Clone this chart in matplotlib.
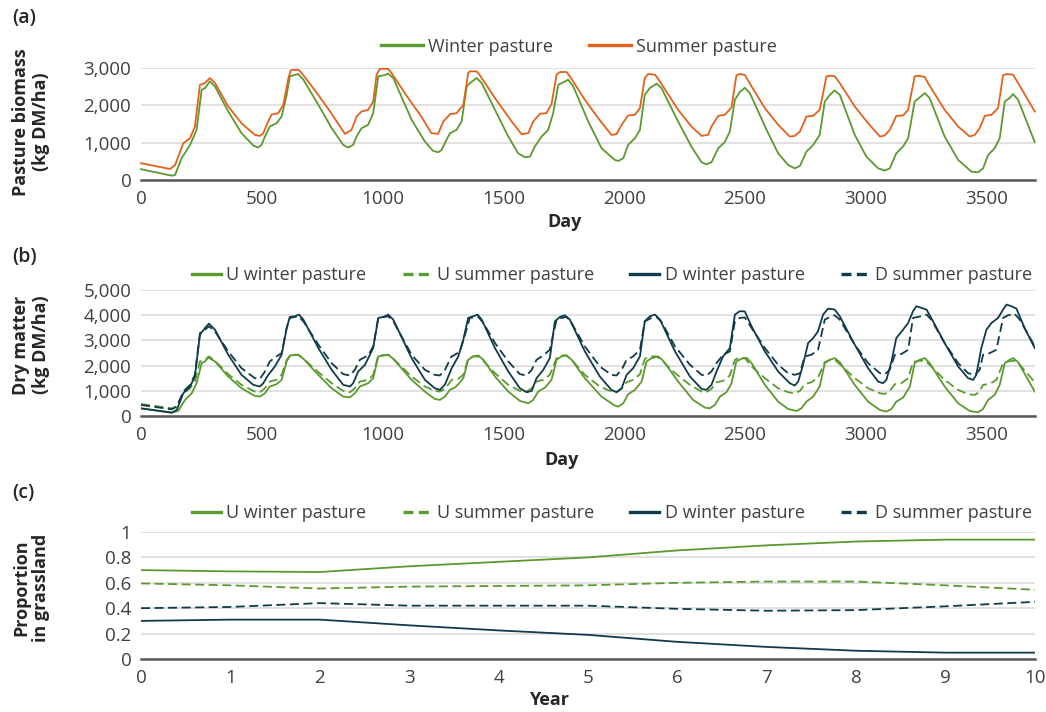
import numpy as np
import matplotlib
matplotlib.use("Agg")
import matplotlib.pyplot as plt
from matplotlib.ticker import FuncFormatter

plt.rcParams['font.family'] = ['Open Sans', 'DejaVu Sans']

GREEN = '#5b9a2f'
ORANGE = '#e2621b'
DARK = '#0f3b4c'
TXT = '#404040'
GRID = '#d9d9d9'

# (a) pasture biomass, [day, kg DM/ha]
a_summer = [
    [0, 450], [120, 295], [141, 400], [175, 985], [203, 1120], [223, 1430], [244, 2550], [265, 2600],
    [285, 2730], [306, 2600], [361, 1970], [416, 1520], [471, 1210], [492, 1180], [506, 1250], [520, 1480],
    [540, 1750], [568, 1790], [589, 2015], [610, 2730], [620, 2940], [651, 2955], [665, 2865], [720, 2400],
    [780, 1860], [844, 1236], [871, 1340], [892, 1700], [913, 1835], [940, 1880], [961, 2100], [975, 2820],
    [989, 2980], [1023, 2975], [1037, 2865], [1100, 2250], [1160, 1700], [1202, 1254], [1230, 1236],
    [1251, 1567], [1279, 1764], [1306, 1790], [1334, 2015], [1354, 2865], [1361, 2910], [1389, 2910],
    [1403, 2800], [1465, 2194], [1534, 1567], [1575, 1227], [1603, 1254], [1623, 1567], [1651, 1773],
    [1678, 1790], [1699, 2033], [1720, 2820], [1734, 2892], [1761, 2892], [1775, 2776], [1837, 2149],
    [1892, 1657], [1947, 1209], [1968, 1227], [1989, 1478], [2016, 1728], [2044, 1746], [2065, 1925],
    [2085, 2731], [2099, 2839], [2127, 2821], [2140, 2713], [2223, 1880], [2278, 1433], [2320, 1182],
    [2347, 1209], [2361, 1433], [2389, 1719], [2416, 1746], [2444, 1943], [2464, 2803], [2478, 2839],
    [2499, 2815], [2527, 2507], [2582, 1925], [2637, 1478], [2685, 1164], [2706, 1182], [2727, 1298],
    [2754, 1701], [2782, 1719], [2809, 1880], [2837, 2776], [2851, 2794], [2871, 2776], [2892, 2597],
    [2954, 1970], [3009, 1522], [3058, 1164], [3078, 1191], [3099, 1343], [3126, 1719], [3154, 1728],
    [3175, 1880], [3202, 2776], [3216, 2794], [3244, 2758], [3257, 2597], [3326, 1880], [3382, 1433],
    [3430, 1164], [3451, 1209], [3471, 1388], [3492, 1719], [3520, 1746], [3547, 1925], [3568, 2803],
    [3582, 2839], [3609, 2821], [3630, 2597], [3699, 1836]]

a_winter = [
    [0, 290], [127, 116], [141, 134], [168, 582], [203, 940], [230, 1343], [251, 2418], [265, 2463],
    [285, 2642], [306, 2507], [361, 1836], [416, 1254], [465, 922], [485, 869], [499, 940], [513, 1164],
    [533, 1433], [561, 1522], [582, 1701], [603, 2284], [616, 2776], [630, 2803], [651, 2839], [672, 2687],
    [734, 2015], [789, 1388], [837, 940], [858, 869], [878, 940], [892, 1164], [913, 1388], [940, 1478],
    [961, 1791], [982, 2776], [1003, 2803], [1023, 2848], [1044, 2731], [1120, 1612], [1175, 1030],
    [1209, 779], [1230, 743], [1244, 806], [1264, 1075], [1279, 1254], [1306, 1343], [1327, 1567],
    [1348, 2507], [1361, 2597], [1375, 2660], [1389, 2731], [1410, 2597], [1465, 1880], [1520, 1164],
    [1561, 716], [1589, 609], [1610, 627], [1630, 896], [1658, 1164], [1685, 1343], [1706, 1791],
    [1727, 2552], [1747, 2615], [1768, 2687], [1789, 2507], [1851, 1567], [1906, 851], [1961, 537],
    [1975, 510], [1996, 582], [2016, 940], [2044, 1119], [2065, 1343], [2085, 2284], [2106, 2463],
    [2134, 2579], [2154, 2463], [2223, 1567], [2278, 896], [2320, 475], [2340, 421], [2361, 475],
    [2389, 851], [2416, 1012], [2437, 1298], [2458, 2149], [2478, 2355], [2499, 2470], [2520, 2328],
    [2589, 1343], [2637, 716], [2678, 403], [2706, 313], [2727, 376], [2754, 761], [2782, 940],
    [2809, 1209], [2830, 2104], [2851, 2284], [2871, 2400], [2892, 2284], [2954, 1209], [3002, 627],
    [3051, 313], [3078, 251], [3099, 313], [3126, 716], [3154, 896], [3175, 1119], [3202, 2104],
    [3223, 2212], [3244, 2328], [3264, 2194], [3326, 1164], [3382, 537], [3437, 224], [3464, 206],
    [3485, 313], [3506, 672], [3533, 851], [3554, 1119], [3575, 2104], [3595, 2194], [3609, 2302],
    [3630, 2149], [3699, 1012]]

# (b) dry matter, [day, kg DM/ha]
b_u_winter = [
    [0, 300], [127, 133], [154, 199], [182, 637], [210, 903], [230, 1301], [251, 2098], [265, 2165],
    [278, 2324], [306, 2165], [361, 1567], [416, 1102], [471, 797], [492, 770], [513, 903], [533, 1169],
    [561, 1262], [582, 1434], [603, 2165], [616, 2404], [651, 2430], [672, 2271], [734, 1633], [789, 1102],
    [837, 770], [865, 744], [885, 903], [906, 1169], [940, 1301], [961, 1501], [982, 2364], [1023, 2430],
    [1044, 2271], [1120, 1434], [1175, 969], [1216, 677], [1237, 637], [1258, 770], [1278, 1036],
    [1299, 1129], [1313, 1262], [1334, 1501], [1354, 2231], [1375, 2364], [1396, 2404], [1417, 2231],
    [1465, 1567], [1520, 969], [1568, 598], [1603, 505], [1623, 637], [1644, 969], [1672, 1129],
    [1699, 1434], [1720, 2231], [1740, 2364], [1761, 2404], [1782, 2231], [1837, 1501], [1906, 770],
    [1961, 412], [1975, 372], [1996, 505], [2016, 863], [2044, 1036], [2072, 1368], [2092, 2165],
    [2113, 2297], [2141, 2364], [2161, 2191], [2223, 1368], [2285, 637], [2334, 332], [2354, 305],
    [2375, 438], [2396, 770], [2423, 943], [2444, 1301], [2464, 2165], [2485, 2271], [2506, 2310],
    [2527, 2100], [2582, 1235], [2637, 571], [2678, 279], [2713, 199], [2733, 305], [2754, 571],
    [2782, 770], [2809, 1169], [2830, 2098], [2851, 2231], [2871, 2297], [2892, 2138], [2954, 1235],
    [3009, 571], [3058, 239], [3085, 173], [3106, 279], [3126, 571], [3154, 730], [3182, 1169],
    [3202, 2098], [3223, 2231], [3244, 2297], [3264, 2098], [3326, 1169], [3382, 505], [3430, 199],
    [3464, 146], [3485, 279], [3506, 637], [3533, 837], [3554, 1235], [3575, 2098], [3595, 2231],
    [3609, 2297], [3630, 2138], [3699, 969]]

b_u_summer = [
    [0, 478], [127, 305], [148, 372], [175, 903], [203, 1102], [223, 1368], [244, 2165], [265, 2231],
    [281, 2364], [306, 2191], [361, 1660], [416, 1235], [471, 969], [492, 943], [513, 1102], [533, 1368],
    [561, 1434], [582, 1633], [603, 2231], [623, 2430], [651, 2430], [672, 2271], [734, 1740], [789, 1301],
    [837, 996], [865, 943], [885, 1102], [906, 1368], [940, 1434], [961, 1633], [982, 2404], [1023, 2430],
    [1044, 2271], [1120, 1567], [1175, 1169], [1216, 996], [1237, 969], [1258, 1076], [1286, 1434],
    [1313, 1474], [1334, 1633], [1354, 2271], [1375, 2364], [1396, 2364], [1417, 2191], [1465, 1700],
    [1520, 1235], [1568, 996], [1596, 969], [1617, 1102], [1637, 1368], [1665, 1434], [1692, 1633],
    [1720, 2297], [1740, 2404], [1761, 2404], [1782, 2231], [1837, 1633], [1899, 1169], [1947, 969],
    [1968, 943], [1989, 1076], [2010, 1341], [2037, 1434], [2065, 1660], [2085, 2271], [2113, 2364],
    [2134, 2364], [2154, 2231], [2210, 1700], [2272, 1235], [2320, 969], [2340, 943], [2361, 1076],
    [2382, 1341], [2409, 1394], [2437, 1607], [2458, 2231], [2478, 2324], [2499, 2300], [2527, 1965],
    [2582, 1501], [2637, 1102], [2678, 943], [2706, 903], [2727, 996], [2747, 1262], [2775, 1341],
    [2802, 1527], [2830, 2138], [2851, 2231], [2871, 2231], [2892, 2058], [2954, 1501], [3009, 1102],
    [3058, 903], [3078, 876], [3099, 996], [3120, 1262], [3147, 1301], [3175, 1501], [3195, 2138],
    [3216, 2191], [3244, 2191], [3264, 2032], [3326, 1434], [3382, 1036], [3423, 863], [3451, 837],
    [3471, 969], [3485, 1235], [3513, 1275], [3540, 1434], [3568, 2098], [3588, 2165], [3616, 2191],
    [3637, 2032], [3699, 1341]]

b_d_winter = [
    [0, 305], [127, 133], [148, 239], [175, 903], [203, 1169], [223, 1567], [244, 3227], [265, 3493],
    [281, 3665], [306, 3426], [361, 2430], [416, 1633], [465, 1235], [492, 1169], [506, 1301], [527, 1633],
    [554, 1965], [582, 2430], [603, 3493], [616, 3931], [637, 3957], [654, 4024], [672, 3824], [734, 2696],
    [789, 1833], [837, 1235], [865, 1169], [878, 1301], [899, 1766], [927, 2032], [961, 2696], [982, 3891],
    [1003, 3931], [1023, 4024], [1044, 3824], [1120, 2297], [1175, 1434], [1216, 1102], [1237, 1036],
    [1258, 1250], [1286, 1900], [1313, 2364], [1334, 3028], [1354, 3891], [1375, 3957], [1393, 4024],
    [1410, 3824], [1465, 2696], [1520, 1766], [1568, 1102], [1596, 943], [1617, 996], [1637, 1501],
    [1665, 1833], [1692, 2297], [1713, 3758], [1734, 3931], [1754, 3997], [1775, 3824], [1837, 2563],
    [1899, 1567], [1947, 1036], [1968, 943], [1989, 1102], [2010, 1633], [2037, 1899], [2065, 2364],
    [2085, 3758], [2106, 3957], [2127, 4024], [2148, 3824], [2210, 2563], [2272, 1567], [2320, 1076],
    [2340, 1036], [2361, 1235], [2382, 1766], [2409, 2364], [2437, 2696], [2458, 4024], [2478, 4157],
    [2499, 4150], [2527, 3559], [2582, 2563], [2637, 1766], [2685, 1301], [2706, 1208], [2720, 1368],
    [2740, 2032], [2761, 2895], [2782, 3094], [2802, 3360], [2823, 4024], [2844, 4263], [2871, 4223],
    [2892, 3957], [2954, 2829], [3009, 1899], [3051, 1368], [3071, 1301], [3085, 1434], [3106, 2165],
    [3126, 3094], [3154, 3426], [3175, 3692], [3195, 4157], [3209, 4356], [3230, 4290], [3251, 4223],
    [3278, 3758], [3326, 2895], [3382, 1965], [3423, 1501], [3444, 1434], [3457, 1633], [3478, 2696],
    [3499, 3426], [3520, 3692], [3547, 3891], [3568, 4223], [3582, 4422], [3602, 4356], [3623, 4263],
    [3657, 3493], [3699, 2696]]

b_d_summer = [
    [0, 438], [127, 266], [148, 372], [175, 969], [203, 1235], [223, 1633], [244, 3293], [265, 3426],
    [281, 3559], [306, 3360], [361, 2563], [416, 1899], [471, 1501], [492, 1474], [513, 1766], [533, 2165],
    [561, 2364], [582, 2497], [603, 3493], [616, 3891], [651, 3957], [672, 3758], [734, 2829], [789, 2098],
    [837, 1660], [865, 1607], [885, 1833], [906, 2231], [940, 2404], [961, 2762], [982, 3891], [1023, 3957],
    [1044, 3758], [1120, 2430], [1175, 1833], [1216, 1633], [1237, 1607], [1258, 1833], [1285, 2364],
    [1299, 2430], [1320, 2563], [1341, 3227], [1361, 3891], [1396, 3931], [1417, 3692], [1465, 2895],
    [1520, 2165], [1568, 1660], [1596, 1607], [1617, 1833], [1637, 2231], [1665, 2404], [1692, 2629],
    [1720, 3824], [1740, 3891], [1761, 3931], [1782, 3692], [1837, 2762], [1899, 1965], [1947, 1633],
    [1968, 1607], [1989, 1833], [2010, 2231], [2037, 2364], [2065, 2629], [2085, 3758], [2113, 3891],
    [2134, 3931], [2154, 3732], [2210, 2762], [2272, 2032], [2320, 1633], [2340, 1607], [2361, 1766],
    [2382, 2098], [2409, 2430], [2437, 2563], [2458, 3758], [2478, 3891], [2499, 3910], [2527, 3493],
    [2582, 2696], [2637, 2032], [2678, 1700], [2706, 1633], [2727, 1700], [2747, 2364], [2775, 2430],
    [2802, 2629], [2830, 3824], [2851, 3931], [2871, 3997], [2892, 3824], [2954, 2829], [3009, 2098],
    [3058, 1700], [3078, 1660], [3099, 1833], [3120, 2430], [3147, 2457], [3175, 2629], [3195, 3891],
    [3216, 3931], [3251, 4024], [3271, 3824], [3326, 2895], [3382, 2098], [3423, 1700], [3451, 1633],
    [3471, 1833], [3485, 2430], [3513, 2497], [3540, 2629], [3568, 3891], [3588, 3997], [3616, 4050],
    [3637, 3824], [3699, 2762]]

# (c) proportion in grassland by year
years = [0, 1, 2, 3, 4, 5, 6, 7, 8, 9, 10]
c_u_winter = [0.70, 0.69, 0.685, 0.73, 0.765, 0.80, 0.855, 0.895, 0.925, 0.94, 0.94]
c_u_summer = [0.595, 0.58, 0.555, 0.57, 0.575, 0.58, 0.60, 0.61, 0.61, 0.58, 0.545]
c_d_winter = [0.30, 0.31, 0.31, 0.265, 0.225, 0.19, 0.135, 0.095, 0.065, 0.05, 0.05]
c_d_summer = [0.40, 0.41, 0.44, 0.42, 0.42, 0.42, 0.395, 0.38, 0.385, 0.415, 0.45]


def xy(pairs):
    arr = np.array(pairs, dtype=float)
    return arr[:, 0], arr[:, 1]


W, H = 1046, 712
fig = plt.figure(figsize=(W / 100, H / 100), dpi=100)


def make_ax(top_px, bot_px):
    left = 141 / W
    width = (1035 - 141) / W
    return fig.add_axes([left, 1 - bot_px / H, width, (bot_px - top_px) / H])


def style(ax):
    for s in ['top', 'right', 'left']:
        ax.spines[s].set_visible(False)
    ax.spines['bottom'].set_color('#595959')
    ax.spines['bottom'].set_linewidth(1.8)
    ax.spines['bottom'].set_zorder(5)
    ax.grid(axis='y', color=GRID, linewidth=1.1)
    ax.set_axisbelow(True)
    ax.tick_params(length=0, labelsize=13.5, labelcolor=TXT, pad=7)


comma = FuncFormatter(lambda v, p: f'{int(v):,}')
dec = FuncFormatter(lambda v, p: '0' if v == 0 else ('1' if v == 1 else f'{v:.1f}'))

lw = 1.3
dash = (5, 2.5)

# ---- (a)
ax1 = make_ax(68, 180)
x, y = xy(a_winter)
ax1.plot(x, y, color=GREEN, lw=lw, label='Winter pasture', clip_on=False)
x, y = xy(a_summer)
ax1.plot(x, y, color=ORANGE, lw=lw, label='Summer pasture', clip_on=False)
ax1.set_xlim(0, 3700)
ax1.set_ylim(0, 3000)
ax1.set_xticks(range(0, 3501, 500))
ax1.set_yticks(range(0, 3001, 1000))
ax1.yaxis.set_major_formatter(comma)
style(ax1)

# ---- (b)
ax2 = make_ax(290, 416)
x, y = xy(b_u_winter)
ax2.plot(x, y, color=GREEN, lw=lw, label='U winter pasture')
x, y = xy(b_u_summer)
ax2.plot(x, y, color=GREEN, lw=lw, ls=(0, dash), label='U summer pasture')
x, y = xy(b_d_winter)
ax2.plot(x, y, color=DARK, lw=lw, label='D winter pasture')
x, y = xy(b_d_summer)
ax2.plot(x, y, color=DARK, lw=lw, ls=(0, dash), label='D summer pasture')
ax2.set_xlim(0, 3700)
ax2.set_ylim(0, 5000)
ax2.set_xticks(range(0, 3501, 500))
ax2.set_yticks(range(0, 5001, 1000))
ax2.yaxis.set_major_formatter(comma)
style(ax2)

# ---- (c)
ax3 = make_ax(532, 659)
ax3.plot(years, c_u_winter, color=GREEN, lw=lw, label='U winter pasture')
ax3.plot(years, c_u_summer, color=GREEN, lw=lw, ls=(0, dash), label='U summer pasture')
ax3.plot(years, c_d_winter, color=DARK, lw=lw, label='D winter pasture')
ax3.plot(years, c_d_summer, color=DARK, lw=lw, ls=(0, dash), label='D summer pasture')
ax3.set_xlim(0, 10)
ax3.set_ylim(0, 1)
ax3.set_xticks(range(0, 11))
ax3.set_yticks([0, 0.2, 0.4, 0.6, 0.8, 1])
ax3.yaxis.set_major_formatter(dec)
style(ax3)

leg_kw = dict(frameon=False, fontsize=13, handletextpad=0.3,
              labelcolor=TXT, borderaxespad=0, borderpad=0)
l1 = ax1.legend(loc='center', bbox_to_anchor=(0.49, 1.19), ncol=2,
                handlelength=2.3, columnspacing=2.0, **leg_kw)
l2 = ax2.legend(loc='center', bbox_to_anchor=(0.527, 1.12), ncol=4,
                handlelength=1.6, columnspacing=2.0, **leg_kw)
l3 = ax3.legend(loc='center', bbox_to_anchor=(0.527, 1.15), ncol=4,
                handlelength=1.6, columnspacing=2.0, **leg_kw)
for lg in (l1, l2, l3):
    for h in lg.get_lines():
        h.set_linewidth(2.4)
for lg in (l2, l3):
    for h in lg.get_lines():
        if h.get_linestyle() != '-':
            h.set_dashes((3, 1.6))

# panel tags, axis titles
for tag, ypx in [('(a)', 18), ('(b)', 257), ('(c)', 493)]:
    fig.text(12 / W, 1 - ypx / H, tag, fontsize=14, fontweight='semibold', color='#262626',
             ha='left', va='center')

for txt, ypx in [('Pasture biomass\n(kg DM/ha)', 122), ('Dry matter\n(kg DM/ha)', 345),
                 ('Proportion\nin grassland', 588)]:
    fig.text(31 / W, 1 - ypx / H, txt, fontsize=13, fontweight='bold', color='#262626',
             rotation=90, ha='center', va='center', ma='center', linespacing=1.15)

for txt, xpx, ypx in [('Day', 565, 222), ('Day', 562, 460), ('Year', 549, 700)]:
    fig.text(xpx / W, 1 - ypx / H, txt, fontsize=13, fontweight='bold', color='#262626',
             ha='center', va='center')

fig.savefig('out.png', dpi=100)
